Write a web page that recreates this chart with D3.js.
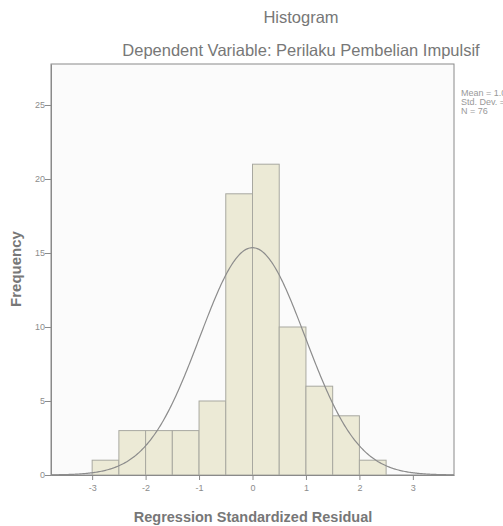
<!DOCTYPE html>
<html lang="en">
  <head>
    <meta charset="utf-8">
    <title>Histogram</title>
    <script src="https://d3js.org/d3.v7.min.js"></script>
    <style>
      body { margin: 0; background: #fff; }
      text { font-family: "Liberation Sans", Arial, sans-serif; }
    </style>
  </head>
  <body>
    <div id="chart"></div>
    <script type="text/javascript">
      // histogram data
      var binStarts = [-3, -2.5, -2, -1.5, -1, -0.5, 0, 0.5, 1, 1.5, 2];
      var binWidth = 0.5;
      var counts = [1, 3, 3, 3, 5, 19, 21, 10, 6, 4, 1];
      var xTicks = [-3, -2, -1, 0, 1, 2, 3];
      var yTicks = [0, 5, 10, 15, 20, 25];
      var legendLines = ["Mean = 1.07E-16", "Std. Dev. = 0.987", "N = 76"];
      var mean = 0, sd = 0.987, n = 76;

      var svg = d3.select('#chart')
        .append('svg')
        .attr('width', 503)
        .attr('height', 526);

      // plot box (note: "top" is reserved on window, so use other names)
      var pLeft = 51, pRight = 454, pTop = 64, pBottom = 475;

      var xScale = d3.scaleLinear()
        .domain([-3.77, 3.77])
        .range([pLeft, pRight]);

      var yScale = d3.scaleLinear()
        .domain([0, 27.77])
        .range([pBottom, pTop]);

      // frame
      svg.append('rect')
        .attr('x', pLeft)
        .attr('y', pTop)
        .attr('width', pRight - pLeft)
        .attr('height', pBottom - pTop)
        .attr('fill', '#fbfbfb')
        .attr('stroke', '#8a8a8a')
        .attr('stroke-width', 1);

      // bars
      svg.selectAll('.bar')
        .data(binStarts)
        .enter()
        .append('rect')
          .attr('class', 'bar')
          .attr('x', (d) => xScale(d))
          .attr('y', (d, i) => yScale(counts[i]))
          .attr('width', (d) => xScale(d + binWidth) - xScale(d))
          .attr('height', (d, i) => pBottom - yScale(counts[i]))
          .attr('fill', '#ecead6')
          .attr('stroke', '#a8a8a0')
          .attr('stroke-width', 1);

      // normal curve
      var pdf = function(x) {
        return n * binWidth * Math.exp(-0.5 * Math.pow((x - mean) / sd, 2)) / (sd * Math.sqrt(2 * Math.PI));
      };
      var curvePts = d3.range(-3.77, 3.771, 0.02);
      svg.append('path')
        .datum(curvePts)
        .attr('fill', 'none')
        .attr('stroke', '#8c8c8c')
        .attr('stroke-width', 1.2)
        .attr('d', d3.line().x((d) => xScale(d)).y((d) => yScale(pdf(d))));

      // axes
      var xAxis = d3.axisBottom(xScale).tickValues(xTicks).tickSize(5).tickSizeOuter(0)
        .tickFormat((d) => String(d));
      var gx = svg.append('g')
        .attr('transform', 'translate(0,' + pBottom + ')')
        .call(xAxis);
      gx.select('.domain').attr('stroke', '#8a8a8a');

      var yAxis = d3.axisLeft(yScale).tickValues(yTicks).tickSize(6).tickSizeOuter(0);
      var gy = svg.append('g')
        .attr('transform', 'translate(' + pLeft + ',0)')
        .call(yAxis);
      gy.select('.domain').attr('stroke', '#8a8a8a');

      [gx, gy].forEach(function(g) {
        g.selectAll('.tick line').attr('stroke', '#8a8a8a');
        g.selectAll('.tick text')
          .attr('fill', '#8c8c8c')
          .style('font-size', '9px')
          .style('font-family', '"Liberation Sans", Arial, sans-serif');
      });
      gx.selectAll('.tick text').attr('dy', '0.9em');
      gy.selectAll('.tick text').attr('x', -6);

      // titles
      svg.append('text')
        .attr('x', 301)
        .attr('y', 23)
        .attr('text-anchor', 'middle')
        .attr('fill', '#777')
        .style('font-size', '16.5px')
        .text('Histogram');

      svg.append('text')
        .attr('x', 301)
        .attr('y', 56)
        .attr('text-anchor', 'middle')
        .attr('fill', '#777')
        .style('font-size', '16.5px')
        .text('Dependent Variable: Perilaku Pembelian Impulsif');

      svg.append('text')
        .attr('x', 253)
        .attr('y', 522)
        .attr('text-anchor', 'middle')
        .attr('fill', '#777')
        .style('font-size', '14.5px')
        .style('font-weight', 'bold')
        .text('Regression Standardized Residual');

      svg.append('text')
        .attr('transform', 'translate(21,269)rotate(-90)')
        .attr('text-anchor', 'middle')
        .attr('fill', '#777')
        .style('font-size', '15px')
        .style('font-weight', 'bold')
        .text('Frequency');

      // legend
      svg.selectAll('.legend')
        .data(legendLines)
        .enter()
        .append('text')
          .attr('class', 'legend')
          .attr('x', 461)
          .attr('y', (d, i) => 96 + i * 9)
          .attr('fill', '#999')
          .style('font-size', '9px')
          .text((d) => d);
    </script>
  </body>
</html>
